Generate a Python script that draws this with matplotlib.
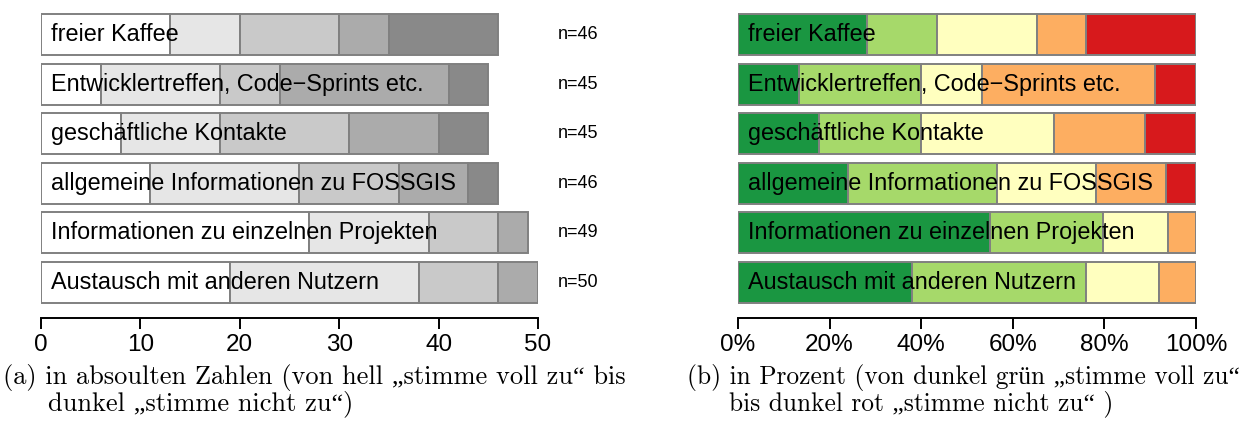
import numpy as np
import matplotlib
matplotlib.use('Agg')
import matplotlib.pyplot as plt

# answers per item: "stimme voll zu" ... "stimme nicht zu"
labels = ['freier Kaffee',
          'Entwicklertreffen, Code\u2212Sprints etc.',
          'geschäftliche Kontakte',
          'allgemeine Informationen zu FOSSGIS',
          'Informationen zu einzelnen Projekten',
          'Austausch mit anderen Nutzern']
voll_zu = [13, 6, 8, 11, 27, 19]
eher_zu = [7, 12, 10, 15, 12, 19]
teils = [10, 6, 13, 10, 7, 8]
eher_nicht = [5, 17, 9, 7, 3, 4]
nicht_zu = [11, 4, 5, 3, 0, 0]

grey_cols = ['#ffffff', '#e6e6e6', '#c9c9c9', '#ababab', '#898989']
rdylgn = ['#1a9641', '#a6d96a', '#ffffbf', '#fdae61', '#d7191c']
abs_ticks = [0, 10, 20, 30, 40, 50]
pct_ticks = [0, 20, 40, 60, 80, 100]

data = np.array([voll_zu, eher_zu, teils, eher_nicht, nicht_zu], dtype=float)
totals = data.sum(axis=0)
pct = data / totals * 100

plt.rcParams['font.family'] = ['Liberation Sans', 'DejaVu Sans']

fig = plt.figure(figsize=(12.55, 4.21), dpi=100)
ax1 = fig.add_axes([41/1255, 1-307.3/421, 497/1255, 297.6/421])
ax2 = fig.add_axes([738/1255, 1-307.3/421, 458/1255, 297.6/421])

def stacked(ax, vals, cols):
    y = np.arange(len(labels))
    left = np.zeros(len(labels))
    for k in range(vals.shape[0]):
        for i in range(len(labels)):
            if vals[k, i] > 0:
                ax.barh(y[i], vals[k, i], left=left[i], height=0.83,
                        color=cols[k], edgecolor='#808080', linewidth=1.4)
        left += vals[k]
    ax.set_ylim(5.5, -0.5)
    for s in ['top', 'left', 'right']:
        ax.spines[s].set_visible(False)
    ax.spines['bottom'].set_position(('outward', 8))
    ax.spines['bottom'].set_linewidth(1.4)
    ax.set_yticks([])
    ax.tick_params(axis='x', length=8, width=1.4, labelsize=17.5, pad=3)

stacked(ax1, data, grey_cols)
ax1.set_xlim(0, 50)
ax1.set_xticks(abs_ticks)
ax1.spines['bottom'].set_bounds(0, 50)
for i, lab in enumerate(labels):
    ax1.text(1.0, i, lab, fontsize=16.8, va='center', ha='left')
    ax1.text(52.0, i, 'n=%d' % totals[i], fontsize=13, va='center', ha='left')

stacked(ax2, pct, rdylgn)
ax2.set_xlim(0, 100)
ax2.set_xticks(pct_ticks)
ax2.set_xticklabels(['%d%%' % t for t in pct_ticks])
for i, lab in enumerate(labels):
    ax2.text(2.2, i, lab, fontsize=16.8, va='center', ha='left')

serif = ['cmr10', 'Liberation Serif']
fig.text(3/1255, 1-384/421, '(a) in absoulten Zahlen (von hell \u201estimme voll zu\u201c bis',
         fontsize=19, family=serif, va='baseline', ha='left')
fig.text(48/1255, 1-410/421, 'dunkel \u201estimme nicht zu\u201c)',
         fontsize=19, family=serif, va='baseline', ha='left')
fig.text(687/1255, 1-384/421, '(b) in Prozent (von dunkel grün \u201estimme voll zu\u201c',
         fontsize=18.3, family=serif, va='baseline', ha='left')
fig.text(729/1255, 1-410/421, 'bis dunkel rot \u201estimme nicht zu\u201c )',
         fontsize=18.3, family=serif, va='baseline', ha='left')

fig.savefig('out.png', dpi=100)
